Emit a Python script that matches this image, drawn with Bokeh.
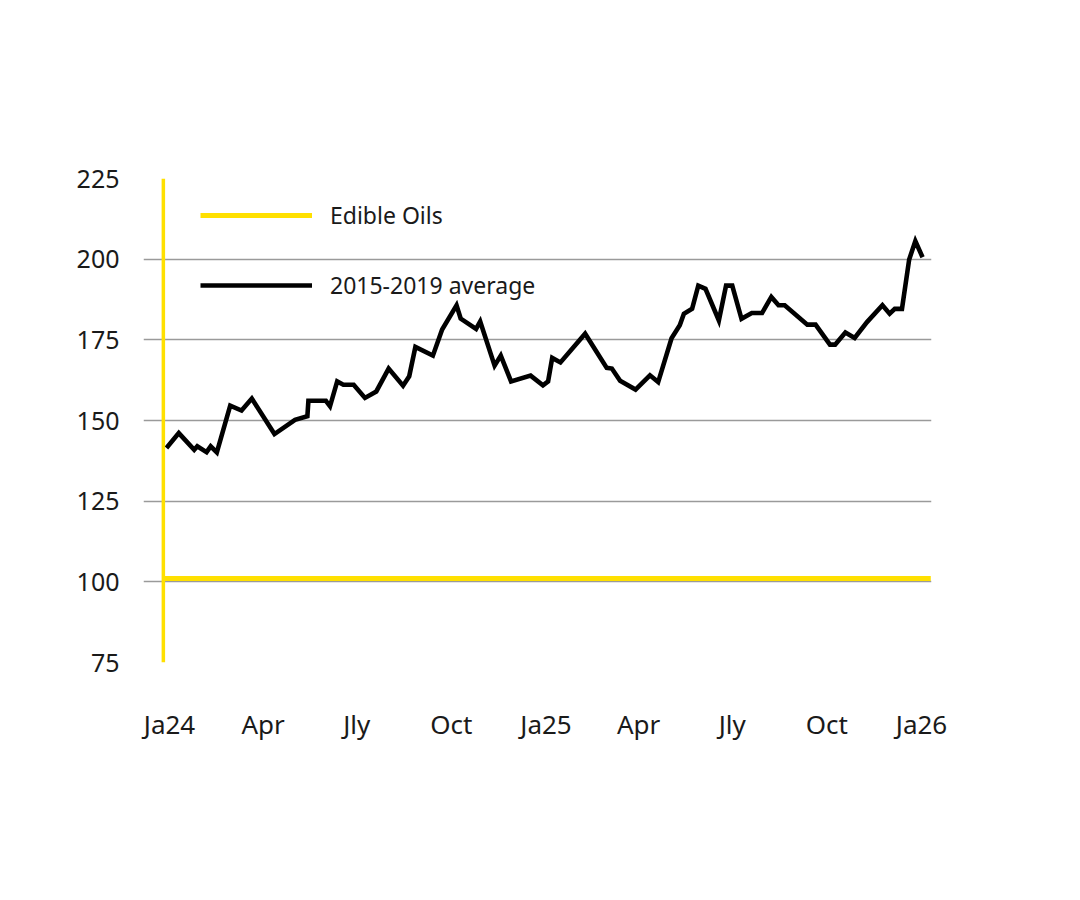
import pandas as pd
from bokeh.plotting import figure
from bokeh.models import Range1d, FixedTicker, Span, Legend, LegendItem
from bokeh.embed import file_html
from bokeh.resources import INLINE

# ---- data ----
avg_dates = [
    "2023-12-29", "2024-01-10", "2024-01-25", "2024-01-28", "2024-02-06", "2024-02-10",
    "2024-02-16", "2024-02-29", "2024-03-11", "2024-03-21", "2024-04-12", "2024-05-02",
    "2024-05-14", "2024-05-15", "2024-06-01", "2024-06-05", "2024-06-12", "2024-06-18",
    "2024-06-28", "2024-07-09", "2024-07-20", "2024-08-01", "2024-08-15", "2024-08-21",
    "2024-08-27", "2024-09-13", "2024-09-22", "2024-10-06", "2024-10-10", "2024-10-25",
    "2024-10-29", "2024-11-12", "2024-11-18", "2024-11-28", "2024-12-17", "2024-12-29",
    "2025-01-03", "2025-01-07", "2025-01-15", "2025-02-08", "2025-03-01", "2025-03-06",
    "2025-03-14", "2025-03-29", "2025-04-12", "2025-04-20", "2025-05-03", "2025-05-11",
    "2025-05-15", "2025-05-23", "2025-05-29", "2025-06-05", "2025-06-18", "2025-06-25",
    "2025-07-01", "2025-07-10", "2025-07-20", "2025-07-30", "2025-08-08", "2025-08-15",
    "2025-08-21", "2025-09-12", "2025-09-20", "2025-10-04", "2025-10-09", "2025-10-19",
    "2025-10-28", "2025-11-09", "2025-11-24", "2025-12-01", "2025-12-06", "2025-12-13",
    "2025-12-20", "2025-12-26", "2026-01-02",
]
avg_values = [
    141.5, 146.1, 140.9, 142.0, 140.2, 142.0,
    140.1, 154.6, 153.1, 156.8, 145.8, 150.2,
    151.3, 156.1, 156.1, 154.4, 162.1, 161.1,
    161.1, 157.0, 159.0, 166.1, 160.8, 163.7,
    172.8, 170.1, 178.2, 185.7, 181.6, 178.4,
    180.7, 167.0, 170.1, 162.1, 163.9, 160.9,
    162.1, 169.4, 168.0, 176.9, 166.3, 166.1,
    162.3, 159.6, 164.0, 161.9, 175.5, 179.5,
    183.1, 184.6, 191.8, 190.8, 181.0, 191.8,
    191.8, 181.5, 183.3, 183.3, 188.3, 185.7,
    185.7, 179.7, 179.7, 173.5, 173.5, 177.3,
    175.6, 180.5, 185.7, 183.1, 184.6, 184.6,
    199.9, 205.6, 200.6,
]
oils_dates = ["2023-12-26", "2026-01-10"]
oils_values = [101, 101]

y_ticks = [75, 100, 125, 150, 175, 200, 225]
x_tick_dates = ["2024-01-01", "2024-04-01", "2024-07-01", "2024-10-01", "2025-01-01",
                "2025-04-01", "2025-07-01", "2025-10-01", "2026-01-01"]
x_tick_labels = ["Ja24", "Apr", "Jly", "Oct", "Ja25", "Apr", "Jly", "Oct", "Ja26"]

origin = pd.Timestamp("2024-01-01")
def to_days(ds):
    return [int((pd.Timestamp(d) - origin).days) for d in ds]

avg_x = to_days(avg_dates)
oils_x = to_days(oils_dates)
tick_x = to_days(x_tick_dates)

YELLOW = "#FFE000"
FONT = "Noto Sans"

p = figure(width=1064, height=884, output_backend="svg", toolbar_location=None,
           x_range=Range1d(-25.3, 740.7), y_range=Range1d(75, 225),
           min_border_left=143, min_border_right=133, min_border_top=178,
           min_border_bottom=222)
p.outline_line_color = None
p.background_fill_color = "white"
p.border_fill_color = "white"

# grid
p.xgrid.visible = False
p.ygrid.ticker = FixedTicker(ticks=y_ticks)
p.ygrid.grid_line_color = "#9a9a9a"
p.ygrid.grid_line_width = 1.5

# axes
p.yaxis.ticker = FixedTicker(ticks=y_ticks)
p.xaxis.ticker = FixedTicker(ticks=tick_x)
p.xaxis.major_label_overrides = {t: l for t, l in zip(tick_x, x_tick_labels)}
for ax in (p.xaxis[0], p.yaxis[0]):
    ax.axis_line_color = None
    ax.major_tick_line_color = None
    ax.minor_tick_line_color = None
    ax.major_label_text_font = FONT
    ax.major_label_text_color = "#1a1a1a"
p.yaxis.major_label_text_font_size = "25px"
p.xaxis.major_label_text_font_size = "26px"
p.yaxis.major_label_standoff = 18
p.xaxis.major_label_standoff = 37

# series
oils_line = p.line(oils_x, oils_values, line_color=YELLOW, line_width=5)
vline = Span(location=oils_x[0], dimension="height", line_color=YELLOW, line_width=3.5)
p.add_layout(vline)
avg_line = p.line(avg_x, avg_values, line_color="black", line_width=4.6, line_join="miter")

legend = Legend(items=[LegendItem(label="Edible Oils", renderers=[oils_line]),
                       LegendItem(label="2015-2019 average", renderers=[avg_line])],
                location=(57, 361), orientation="vertical")
legend.border_line_color = None
legend.background_fill_alpha = 0
legend.padding = 0
legend.margin = 0
legend.glyph_width = 112
legend.glyph_height = 32
legend.label_height = 32
legend.spacing = 38
legend.label_standoff = 18
legend.label_text_font = FONT
legend.label_text_font_size = "23px"
legend.label_text_color = "#1a1a1a"
p.add_layout(legend, "center")

open("out.html", "w").write(file_html(p, INLINE))
